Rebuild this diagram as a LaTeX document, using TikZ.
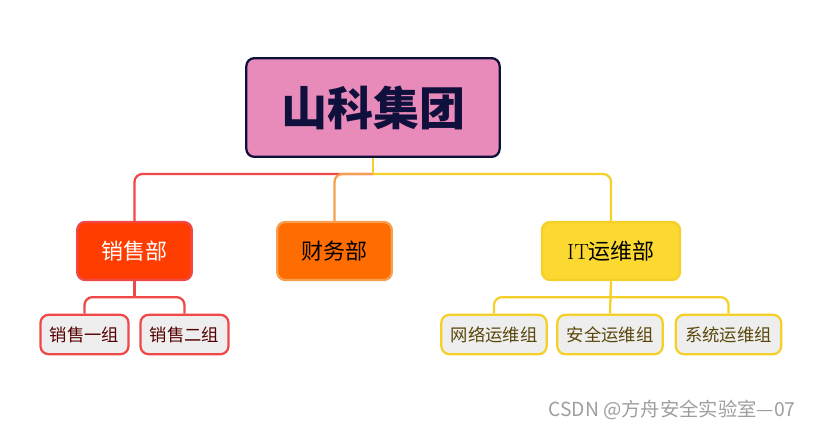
\documentclass[tikz,border=0pt]{standalone}
\usepackage{fontspec}
\usepackage{tikz}
\usetikzlibrary{positioning}
\usepackage{xcolor}
\newfontfamily\cjk{Noto Sans CJK SC}
\newfontfamily\cjkwm{Noto Sans CJK SC}
\definecolor{rootpink}{RGB}{232,139,186}
\definecolor{rootnavy}{RGB}{16,16,60}
\definecolor{salesred}{RGB}{255,61,0}
\definecolor{lineRed}{RGB}{240,72,72}
\definecolor{finorange}{RGB}{255,108,0}
\definecolor{lineOrange}{RGB}{245,160,80}
\definecolor{ityellow}{RGB}{252,217,48}
\definecolor{lineYellow}{RGB}{245,208,40}
\definecolor{leafgray}{RGB}{238,238,238}
\definecolor{salestext}{RGB}{85,0,0}
\definecolor{ittext}{RGB}{90,70,10}

\begin{document}
\begin{tikzpicture}[
    x=0.75pt, y=-0.75pt,
    every node/.style={font=\cjk},
    rootNode/.style={rectangle, draw=rootnavy, fill=rootpink, line width=1.7pt, rounded corners=6pt, minimum width=190pt, minimum height=74pt, align=center, font=\cjk\bfseries\fontsize{34.5}{38}\selectfont, text=rootnavy},
    deptNode/.style={rectangle, line width=1.7pt, rounded corners=6pt, minimum width=86pt, minimum height=43.5pt, align=center, font=\cjk\fontsize{16.5}{19}\selectfont},
    leafNode/.style={rectangle, fill=leafgray, line width=1.7pt, rounded corners=6pt, inner xsep=7pt, minimum height=29.5pt, align=center, font=\cjk\fontsize{13}{15}\selectfont},
    treeEdge/.style={line width=1.7pt, rounded corners=6pt}
]
    \useasboundingbox (0,0) rectangle (815,429);

    \node [rootNode] (root) at (373,107.5) {山科集团};

    \node [deptNode, draw=lineRed, fill=salesred, text=white] (sales) at (134.5,251) {销售部};
    \node [deptNode, draw=lineOrange, fill=finorange] (fin) at (334.5,251) {财务部};
    \node [deptNode, draw=lineYellow, fill=ityellow, minimum width=103.5pt] (it) at (611,251) {{\rmfamily IT}运维部};

    \node [leafNode, draw=lineRed, text=salestext] (sales1) at (84.5,334.5) {销售一组};
    \node [leafNode, draw=lineRed, text=salestext] (sales2) at (184.5,334.5) {销售二组};
    \node [leafNode, draw=lineYellow, text=ittext] (net) at (494,334.5) {网络运维组};
    \node [leafNode, draw=lineYellow, text=ittext] (sec) at (610,334.5) {安全运维组};
    \node [leafNode, draw=lineYellow, text=ittext] (sys) at (728.5,334.5) {系统运维组};

    \coordinate (hub) at ([yshift=-12pt]root.south);
    \coordinate (salesHub) at ([yshift=-12pt]sales.south);
    \coordinate (itHub) at ([yshift=-12pt]it.south);

    % root to departments
    \draw [treeEdge, lineRed] (hub) -| (sales.north);
    \draw [treeEdge, lineOrange] (hub) -| (fin.north);
    \draw [treeEdge, lineYellow] (hub) -| (it.north);
    \draw [treeEdge, lineYellow] (root.south) -- (hub);

    % departments to groups
    \draw [treeEdge, lineRed] (salesHub) -| (sales1.north);
    \draw [treeEdge, lineRed] (salesHub) -| (sales2.north);
    \draw [treeEdge, lineRed] (sales.south) -- (salesHub);
    \draw [treeEdge, lineYellow] (itHub) -| (net.north);
    \draw [treeEdge, lineYellow] (itHub) -| (sys.north);
    \draw [treeEdge, lineYellow] (it.south) -- (sec.north);

    \node [font=\cjkwm\fontsize{14.5}{16}\selectfont, text=black!38] (mark) at (672,410) {CSDN @方舟安全实验室—07};
\end{tikzpicture}
\end{document}
